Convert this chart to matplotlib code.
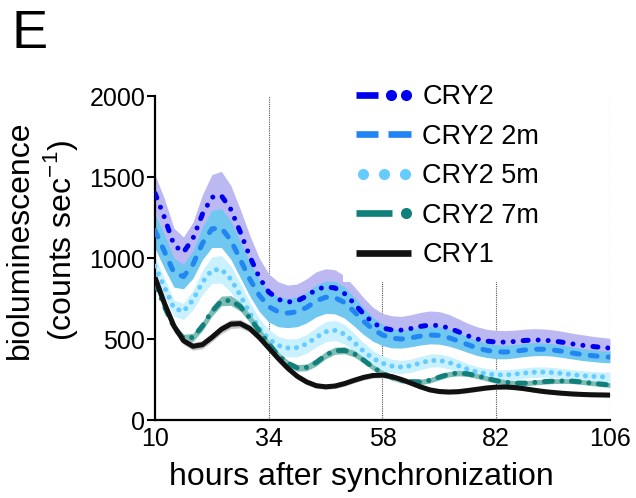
import numpy as np
import matplotlib
matplotlib.use("Agg")
import matplotlib.pyplot as plt
from matplotlib.legend_handler import HandlerBase
from matplotlib.lines import Line2D

plt.rcParams['font.family'] = ['Liberation Sans', 'DejaVu Sans']
plt.rcParams['mathtext.fontset'] = 'custom'
plt.rcParams['mathtext.rm'] = 'Liberation Sans'

# hours after synchronization (sampled every 2 h)
hours = np.arange(10, 107, 2)

# mean bioluminescence (counts/sec)
cry2 = [1400, 1250, 1080, 1035, 1120, 1270, 1375, 1385, 1300, 1160,
        1010, 880, 790, 745, 728, 735, 765, 805, 822, 815,
        780, 720, 655, 600, 568, 556, 555, 565, 578, 586,
        583, 568, 545, 520, 500, 487, 481, 481, 485, 491,
        494, 493, 488, 480, 470, 462, 455, 449, 444]
cry2_2m = [1170, 1040, 910, 885, 960, 1090, 1180, 1185, 1110, 990,
           870, 770, 700, 668, 660, 668, 695, 735, 758, 755,
           725, 670, 610, 560, 525, 505, 500, 507, 518, 525,
           522, 508, 488, 465, 444, 430, 421, 420, 425, 432,
           437, 437, 432, 424, 414, 405, 398, 392, 388]
cry2_5m = [950, 820, 690, 670, 740, 850, 925, 930, 870, 770,
           660, 565, 500, 460, 445, 447, 470, 510, 545, 553,
           530, 480, 425, 380, 350, 333, 327, 335, 352, 367,
           368, 355, 335, 313, 296, 285, 279, 278, 283, 290,
           295, 296, 293, 287, 280, 274, 270, 267, 265]
cry2_7m = [850, 700, 570, 505, 510, 580, 670, 735, 738, 700,
           630, 550, 470, 400, 350, 322, 325, 355, 400, 428,
           430, 410, 370, 325, 290, 262, 245, 237, 235, 245,
           265, 283, 290, 285, 272, 257, 243, 233, 228, 228,
           232, 237, 240, 241, 240, 235, 228, 222, 216]
cry1 = [880, 720, 580, 490, 455, 465, 510, 560, 592, 595,
        565, 510, 445, 380, 320, 270, 235, 212, 205, 210,
        225, 245, 263, 275, 277, 268, 250, 228, 205, 186,
        176, 173, 175, 182, 190, 198, 203, 204, 200, 193,
        184, 176, 170, 165, 161, 158, 156, 155, 154]

# SEM bands
cry2_sem = [115, 115, 105, 95, 100, 120, 140, 150, 148, 140,
            130, 120, 112, 108, 105, 105, 107, 110, 112, 112,
            110, 105, 100, 95, 90, 87, 85, 85, 86, 87,
            86, 84, 80, 77, 75, 73, 72, 71, 70, 70,
            70, 69, 68, 67, 66, 65, 63, 62, 60]
cry2_2m_sem = [110, 105, 90, 75, 85, 100, 115, 120, 118, 112,
               105, 100, 95, 92, 90, 92, 95, 98, 100, 100,
               96, 90, 82, 74, 66, 60, 56, 55, 55, 55,
               54, 52, 50, 48, 46, 44, 43, 42, 41, 40,
               40, 39, 38, 38, 37, 37, 36, 36, 35]
cry2_5m_sem = [60, 55, 50, 50, 60, 75, 82, 85, 82, 76,
               68, 62, 58, 56, 55, 56, 58, 60, 62, 62,
               60, 56, 52, 48, 44, 42, 41, 41, 41, 41,
               40, 39, 37, 35, 34, 33, 32, 32, 32, 32,
               32, 32, 31, 31, 31, 30, 30, 30, 30]
cry2_7m_sem = [30, 28, 25, 24, 25, 28, 30, 30, 30, 28,
               26, 24, 22, 21, 20, 20, 21, 22, 22, 22,
               21, 20, 19, 18, 17, 17, 17, 17, 17, 17,
               17, 17, 17, 16, 16, 16, 16, 16, 16, 16,
               16, 16, 15, 15, 15, 15, 15, 15, 15]
cry1_sem = [35, 30, 26, 24, 24, 25, 26, 27, 27, 26,
            24, 22, 20, 19, 18, 17, 16, 16, 16, 16,
            16, 16, 16, 16, 16, 15, 15, 15, 14, 14,
            14, 14, 14, 14, 14, 14, 14, 14, 14, 13,
            13, 13, 13, 13, 13, 13, 13, 13, 13]

labels = ['CRY2', 'CRY2 2m', 'CRY2 5m', 'CRY2 7m', 'CRY1']
xticks = [10, 34, 58, 82, 106]
yticks = [0, 500, 1000, 1500, 2000]

series = [
    (cry2, cry2_sem, '#0000f0', '#bcb9f2', (0, (1.0, 2.0, 0.01, 2.0, 0.01, 2.0))),
    (cry2_2m, cry2_2m_sem, '#2286f2', '#70c7f0', (0, (1.4, 2.2))),
    (cry2_5m, cry2_5m_sem, '#66cbff', '#c9f1ff', (0, (0.01, 1.7))),
    (cry2_7m, cry2_7m_sem, '#12807a', '#7dbdb6', (0, (1.6, 1.9, 0.01, 1.9))),
    (cry1, cry1_sem, '#111111', '#c4c4c4', '-'),
]

# legend glyphs: dashes as (start, end) fractions, dots as a single fraction
legend_glyphs = [
    [(0.0, 0.40), 0.62, 0.91],
    [(0.0, 0.40), (0.58, 1.0)],
    [0.12, 0.50, 0.88],
    [(0.0, 0.64), 0.90],
    [(0.0, 1.0)],
]


class GlyphHandler(HandlerBase):
    def __init__(self, glyph, color):
        super().__init__()
        self.glyph = glyph
        self.color = color

    def create_artists(self, legend, orig_handle, xdescent, ydescent,
                       width, height, fontsize, trans):
        y = (height - ydescent) / 2
        arts = []
        for g in self.glyph:
            if isinstance(g, tuple):
                x0 = -xdescent + g[0] * width
                x1 = -xdescent + g[1] * width
                arts.append(Line2D([x0, x1], [y, y], color=self.color, lw=4.8,
                                   solid_capstyle='butt', transform=trans))
            else:
                x = -xdescent + g * width
                arts.append(Line2D([x], [y], color=self.color, ls='none',
                                   marker='o', ms=8, mec='none',
                                   mfc=self.color, transform=trans))
        return arts


fig = plt.figure(figsize=(6.36, 4.98), dpi=100)
ax = fig.add_axes([0.2437, 0.1566, 0.7154, 0.6506])

for xv in xticks[1:]:
    ax.axvline(xv, color='#555555', lw=0.8, ls=(0, (1, 1)), zorder=0)

for y, s, c, bc, ls in series:
    y = np.array(y)
    s = np.array(s)
    ax.fill_between(hours, y - s, y + s, color=bc, lw=0, zorder=1)

handles = []
hmap = {}
for (y, s, c, bc, ls), lab, gl in zip(series, labels, legend_glyphs):
    ln, = ax.plot(hours, y, color=c, lw=3.6, ls=ls, label=lab,
                  dash_capstyle='round', solid_capstyle='butt', zorder=3)
    handles.append(ln)
    hmap[ln] = GlyphHandler(gl, c)

ax.set_xlim(10, 106)
ax.set_ylim(0, 2000)
ax.set_xticks(xticks)
ax.set_yticks(yticks)
ax.tick_params(axis='x', length=0, pad=5, labelsize=18)
ax.tick_params(axis='y', length=6, width=1.5, pad=1, labelsize=18, direction='out')
for sp in ['top', 'right']:
    ax.spines[sp].set_visible(False)
for sp in ['left', 'bottom']:
    ax.spines[sp].set_linewidth(1.6)

leg = ax.legend(handles=handles, handler_map=hmap, loc='upper left',
                bbox_to_anchor=(0.413, 1.078), borderaxespad=0, borderpad=0.5,
                fontsize=19.5, handlelength=2.03, handletextpad=0.4,
                labelspacing=0.5, frameon=True, fancybox=False)
leg.get_frame().set_facecolor('white')
leg.get_frame().set_edgecolor('none')
leg.get_frame().set_alpha(1)
leg.set_zorder(5)

fig.text(361 / 636, 1 - 485 / 498, 'hours after synchronization',
         fontsize=23, ha='center', va='baseline')
fig.text(42 / 636, 1 - 240 / 498, 'bioluminescence\n(counts sec$^{-1}$)',
         fontsize=23, ha='center', va='center', rotation=90,
         multialignment='center', linespacing=1.2)
fig.text(12 / 636, 1 - 48 / 498, 'E', fontsize=39, ha='left', va='baseline')

fig.savefig('out.png', dpi=100)
